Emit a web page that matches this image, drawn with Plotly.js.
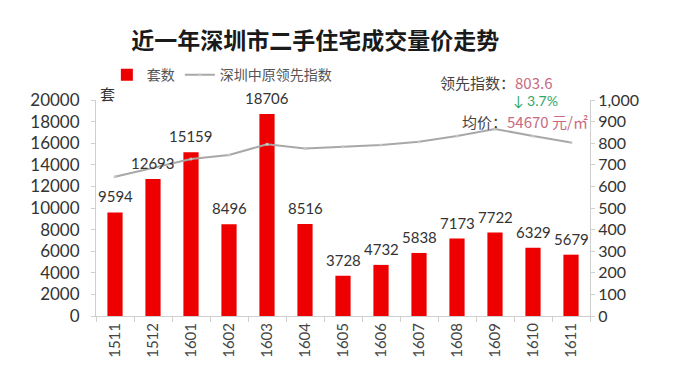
<!DOCTYPE html>
<html><head><meta charset="utf-8">
<script src="https://cdn.plot.ly/plotly-3.0.1.min.js"></script>
<style>html,body{margin:0;padding:0;background:#fff}#c{width:678px;height:370px}</style>
</head><body><div id="c"></div>
<script>
const months = ['1511','1512','1601','1602','1603','1604','1605','1606','1607','1608','1609','1610','1611'];
const units = [9594,12693,15159,8496,18706,8516,3728,4732,5838,7173,7722,6329,5679];
const indexVals = [645,685,727,745,795,776,784,792,807,833,866,833,803.6];
const titleText = '近一年深圳市二手住宅成交量价走势';
const barName = '套数';
const lineName = '深圳中原领先指数';
const yLeftTitle = '套';
const latestIndex = '803.6';
const changeText = '↓ 3.7%';
const avgPrice = '54670 元/㎡';

const cjk = '"Noto Sans CJK SC", "Noto Sans", sans-serif';
const num = 'Lato, "Noto Sans CJK SC", sans-serif';

const labelAnn = months.map((m,i)=>({
  x:i, y:units[i], xref:'x', yref:'y', text:String(units[i]),
  showarrow:false, yanchor:'bottom', yshift:5,
  font:{family:num,size:15,color:'#333'}
}));

const data = [
  {type:'bar', x:months, y:units, name:barName, marker:{color:'#ee0000'}, yaxis:'y'},
  {type:'scatter', mode:'lines+markers', x:months, y:indexVals, name:lineName, yaxis:'y2',
   line:{color:'#a8a8a8', width:2}, marker:{size:3, color:'#c8c8c8'}}
];

const layout = {
  width:678, height:370,
  margin:{l:96, r:88, t:100, b:54},
  paper_bgcolor:'#fff', plot_bgcolor:'#fff',
  showlegend:true,
  legend:{orientation:'h', x:0.022, xanchor:'left', y:1.115, yanchor:'middle',
    font:{family:cjk, size:14, color:'#555'}, traceorder:'normal', bgcolor:'rgba(0,0,0,0)'},
  title:{text:titleText, x:0.465, xanchor:'center', y:0.89, yanchor:'middle',
    font:{family:cjk, size:23, color:'#1a1a1a', weight:'bold'}},
  bargap:0.6,
  xaxis:{type:'category', range:[-0.5,12.5], tickangle:-90, showline:true, linecolor:'#cfcfcf', linewidth:1,
    ticks:'outside', ticklen:5, tickcolor:'#cfcfcf', tickson:'boundaries',
    tickfont:{family:num, size:15, color:'#444'}, showgrid:false},
  yaxis:{range:[0,20000], dtick:2000, tickformat:'d', showline:true, linecolor:'#cfcfcf',
    ticks:'outside', ticklen:4, tickcolor:'#cfcfcf', showgrid:false, zeroline:false,
    ticklabelstandoff:8, tickfont:{family:num, size:17, color:'#333'}},
  yaxis2:{range:[0,1000], dtick:100, tickformat:',', overlaying:'y', side:'right',
    showline:true, linecolor:'#cfcfcf', ticks:'outside', ticklen:4, tickcolor:'#cfcfcf',
    showgrid:false, zeroline:false, tickfont:{family:num, size:16, color:'#333'}},
  annotations: labelAnn.concat([
    {xref:'paper', yref:'paper', x:0.0, y:1.03, xanchor:'left', yanchor:'middle', xshift:2,
     text:yLeftTitle, showarrow:false, font:{family:cjk, size:15, color:'#333'}},
    {xref:'paper', yref:'paper', x:0.93, y:1.08, xanchor:'right', yanchor:'middle',
     text:'领先指数：<span style="color:#c96a82">'+latestIndex+'</span>', showarrow:false,
     font:{family:cjk, size:15, color:'#444'}},
    {xref:'paper', yref:'paper', x:0.94, y:1.0, xanchor:'right', yanchor:'middle',
     text:changeText, showarrow:false, font:{family:num, size:14, color:'#2fa86a'}},
    {xref:'paper', yref:'paper', x:1.0, y:0.9, xanchor:'right', yanchor:'middle',
     text:'均价：<span style="color:#c96a82">'+avgPrice+'</span>', showarrow:false,
     font:{family:cjk, size:15, color:'#444'}}
  ])
};
Plotly.newPlot('c', data, layout, {displayModeBar:false, staticPlot:true});
</script></body></html>
